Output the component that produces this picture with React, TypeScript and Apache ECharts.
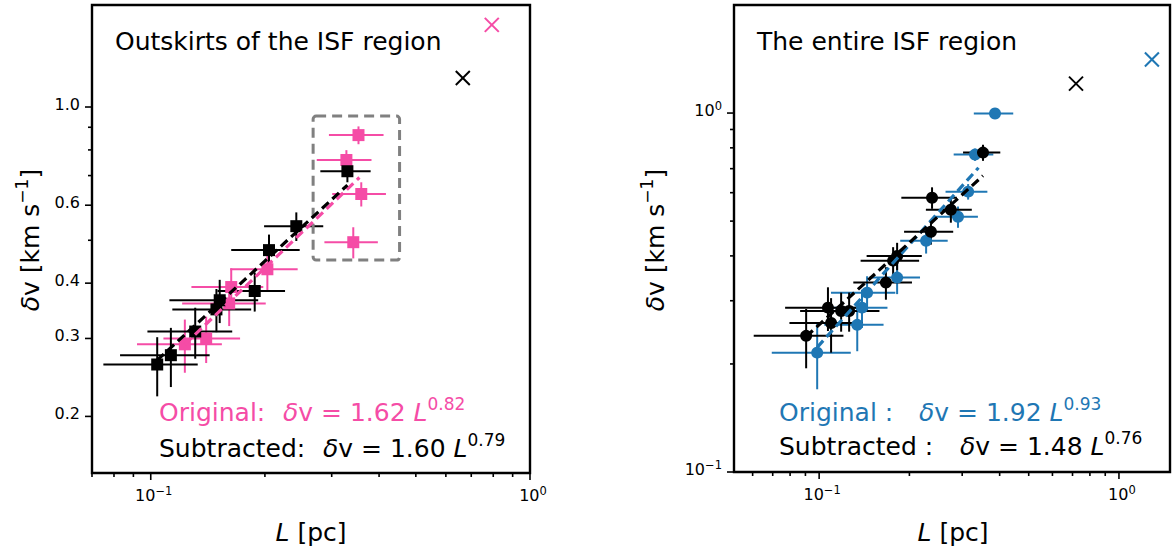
import React, { useEffect, useRef } from 'react';
import * as echarts from 'echarts';

const PINK = '#f54ca6';
const BLUE = '#1f77b4';
const GREY = '#808080';
const FONT = "'DejaVu Sans', sans-serif";
const BIG = 25;

// ---------- Left panel: outskirts of the ISF region ----------
const leftOrigL = [0.353, 0.328, 0.359, 0.342, 0.203, 0.163, 0.161, 0.140, 0.123];
const leftOrigV = [0.864, 0.759, 0.636, 0.495, 0.430, 0.392, 0.360, 0.300, 0.291];
const leftOrigLErr = [0.058, 0.054, 0.058, 0.055, 0.041, 0.035, 0.040, 0.032, 0.031];
const leftOrigVErr = [0.04, 0.04, 0.04, 0.04, 0.045, 0.04, 0.04, 0.036, 0.04];
const leftSubL = [0.330, 0.242, 0.205, 0.188, 0.152, 0.149, 0.131, 0.113, 0.104];
const leftSubV = [0.716, 0.538, 0.475, 0.384, 0.366, 0.349, 0.311, 0.275, 0.262];
const leftSubLErr = [0.05, 0.043, 0.042, 0.038, 0.04, 0.035, 0.033, 0.030, 0.029];
const leftSubVErr = [0.04, 0.04, 0.04, 0.039, 0.041, 0.039, 0.041, 0.042, 0.040];
const leftOrigOutlier = [0.793, 1.533];
const leftSubOutlier = [0.665, 1.163];
const leftOrigFit = [[0.123, 0.291], [0.355, 0.693]];
const leftSubFit = [[0.104, 0.268], [0.330, 0.666]];
const leftBox = [0.268, 0.453, 0.451, 0.954]; // Lmin, Lmax, vmin, vmax
const leftXRange = [0.07, 1.0];
const leftYRange = [0.149, 1.7];
const leftXMajor = [0.1, 1.0];
const leftXMajorLabels = ['10{s|−1}', '10{s|0}'];
const leftXMinor = [0.07, 0.08, 0.09, 0.2, 0.3, 0.4, 0.5, 0.6, 0.7, 0.8, 0.9];
const leftYMajor = [0.2, 0.3, 0.4, 0.6, 1.0];
const leftYMajorLabels = ['0.2', '0.3', '0.4', '0.6', '1.0'];
const leftYMinor = [0.5, 0.7, 0.8, 0.9];

// ---------- Right panel: the entire ISF region ----------
const rightOrigL = [0.386, 0.331, 0.314, 0.2905, 0.2274, 0.182, 0.1445, 0.139, 0.134, 0.0985];
const rightOrigV = [0.997, 0.766, 0.604, 0.514, 0.441, 0.348, 0.316, 0.287, 0.257, 0.215];
const rightOrigLErr = [0.058, 0.05, 0.05, 0.048, 0.041, 0.035, 0.035, 0.03, 0.03, 0.029];
const rightOrigVErr = [0.03, 0.03, 0.03, 0.035, 0.035, 0.035, 0.035, 0.035, 0.04, 0.045];
const rightSubL = [0.352, 0.238, 0.275, 0.236, 0.182, 0.1765, 0.167, 0.1259, 0.1184, 0.107, 0.1096, 0.0905];
const rightSubV = [0.776, 0.581, 0.538, 0.467, 0.400, 0.388, 0.337, 0.281, 0.281, 0.287, 0.260, 0.2395];
const rightSubLErr = [0.05, 0.05, 0.048, 0.044, 0.038, 0.039, 0.037, 0.033, 0.032, 0.03, 0.03, 0.03];
const rightSubVErr = [0.04, 0.04, 0.043, 0.037, 0.035, 0.035, 0.035, 0.035, 0.035, 0.04, 0.045, 0.045];
const rightOrigOutlier = [1.288, 1.41];
const rightSubOutlier = [0.719, 1.208];
const rightOrigFit = [[0.0985, 0.2225], [0.34, 0.704]];
const rightSubFit = [[0.0905, 0.2385], [0.352, 0.669]];
const rightXRange = [0.052, 1.48];
const rightYRange = [0.1, 2.0];
const rightXMajor = [0.1, 1.0];
const rightXMajorLabels = ['10{s|−1}', '10{s|0}'];
const rightXMinor = [0.06, 0.07, 0.08, 0.09, 0.2, 0.3, 0.4, 0.5, 0.6, 0.7, 0.8, 0.9];
const rightYMajor = [0.1, 1.0];
const rightYMajorLabels = ['10{s|−1}', '10{s|0}'];
const rightYMinor = [0.2, 0.3, 0.4, 0.5, 0.6, 0.7, 0.8, 0.9];

const zip4 = (a: number[], b: number[], c: number[], d: number[]) => a.map((v, i) => [v, b[i], c[i], d[i]]);
const zip2 = (a: number[], b: number[]) => a.map((v, i) => [v, b[i]]);

const tickRich = {
  s: { fontSize: 11.5, lineHeight: 10, verticalAlign: 'top', fontFamily: FONT, fill: '#000' },
};

function errSeries(idx: number, data: number[][], color: string) {
  return {
    type: 'custom', xAxisIndex: idx, yAxisIndex: idx, clip: true, silent: true,
    data,
    renderItem: (_p: any, api: any) => {
      const x = api.value(0), y = api.value(1), ex = api.value(2), ey = api.value(3);
      const c = api.coord([x, y]);
      const l = api.coord([x - ex, y]);
      const r = api.coord([x + ex, y]);
      const t = api.coord([x, y + ey]);
      const b = api.coord([x, y - ey]);
      const style = { stroke: color, lineWidth: 2 };
      return {
        type: 'group',
        children: [
          { type: 'line', shape: { x1: l[0], y1: c[1], x2: r[0], y2: c[1] }, style },
          { type: 'line', shape: { x1: c[0], y1: t[1], x2: c[0], y2: b[1] }, style },
        ],
      };
    },
  };
}

function crossSeries(idx: number, pt: number[], color: string) {
  return {
    type: 'custom', xAxisIndex: idx, yAxisIndex: idx, clip: false, silent: true,
    data: [pt],
    renderItem: (_p: any, api: any) => {
      const c = api.coord([api.value(0), api.value(1)]);
      const h = 7;
      const style = { stroke: color, lineWidth: 2 };
      return {
        type: 'group',
        children: [
          { type: 'line', shape: { x1: c[0] - h, y1: c[1] - h, x2: c[0] + h, y2: c[1] + h }, style },
          { type: 'line', shape: { x1: c[0] - h, y1: c[1] + h, x2: c[0] + h, y2: c[1] - h }, style },
        ],
      };
    },
  };
}

function markerSeries(idx: number, data: number[][], color: string, symbol: string) {
  return {
    type: 'scatter', xAxisIndex: idx, yAxisIndex: idx, symbol, symbolSize: 12, silent: true,
    itemStyle: { color, opacity: 1 }, data,
  };
}

function fitSeries(idx: number, data: number[][], color: string) {
  return {
    type: 'line', xAxisIndex: idx, yAxisIndex: idx, data, symbol: 'none', silent: true,
    lineStyle: { color, width: 3.2, type: [9, 5] },
  };
}

function xTicks(idx: number, vals: number[], labels: string[] | null, yMin: number, len: number) {
  return {
    type: 'custom', xAxisIndex: idx, yAxisIndex: idx, clip: false, silent: true, z: 10,
    data: vals.map((v, i) => [v, yMin, i]),
    renderItem: (_p: any, api: any) => {
      const i = api.value(2);
      const p = api.coord([api.value(0), yMin]);
      const children: any[] = [
        { type: 'line', shape: { x1: p[0], y1: p[1], x2: p[0], y2: p[1] + len }, style: { stroke: '#000', lineWidth: 1.6 } },
      ];
      if (labels) {
        children.push({
          type: 'text',
          style: {
            text: labels[i], x: p[0] + 3, y: p[1] + len + 5, align: 'center', verticalAlign: 'top',
            fill: '#000', fontSize: 16, fontFamily: FONT, lineHeight: 21, rich: tickRich,
          },
        });
      }
      return { type: 'group', children };
    },
  };
}

function yTicks(idx: number, vals: number[], labels: string[] | null, xMin: number, len: number) {
  return {
    type: 'custom', xAxisIndex: idx, yAxisIndex: idx, clip: false, silent: true, z: 10,
    data: vals.map((v, i) => [xMin, v, i]),
    renderItem: (_p: any, api: any) => {
      const i = api.value(2);
      const p = api.coord([xMin, api.value(1)]);
      const children: any[] = [
        { type: 'line', shape: { x1: p[0] - len, y1: p[1], x2: p[0], y2: p[1] }, style: { stroke: '#000', lineWidth: 1.6 } },
      ];
      if (labels) {
        children.push({
          type: 'text',
          style: {
            text: labels[i], x: p[0] - len - 5, y: p[1] - 3, align: 'right', verticalAlign: 'middle',
            fill: '#000', fontSize: 16, fontFamily: FONT, lineHeight: 21, rich: tickRich,
          },
        });
      }
      return { type: 'group', children };
    },
  };
}

function boxSeries(idx: number, box: number[]) {
  return {
    type: 'custom', xAxisIndex: idx, yAxisIndex: idx, clip: false, silent: true,
    data: [box],
    renderItem: (_p: any, api: any) => {
      const a = api.coord([api.value(0), api.value(3)]);
      const b = api.coord([api.value(1), api.value(2)]);
      return {
        type: 'rect',
        shape: { x: a[0], y: a[1], width: b[0] - a[0], height: b[1] - a[1], r: 3 },
        style: { fill: 'none', stroke: GREY, lineWidth: 3, lineDash: [10, 6] },
      };
    },
  };
}

const annRich = {
  i: { fontStyle: 'italic', fontSize: BIG, lineHeight: 34, fontFamily: FONT },
  s: { fontSize: 17, lineHeight: 15, verticalAlign: 'top', fontFamily: FONT },
};

function annText(x: number, y: number, text: string, color: string) {
  return {
    type: 'text', x, y, silent: true,
    style: {
      text, x: 0, y: 0, align: 'left', verticalAlign: 'middle', fill: color,
      fontSize: BIG, fontFamily: FONT, lineHeight: 34,
      rich: {
        i: { ...annRich.i, fill: color },
        s: { ...annRich.s, fill: color },
      },
    },
  };
}

function yLabel(x: number, y: number) {
  return {
    type: 'text', x, y, rotation: Math.PI / 2, silent: true,
    style: {
      text: '{i|δ}v [km s{s|−1}]', x: 0, y: 0, align: 'center', verticalAlign: 'middle', fill: '#000',
      fontSize: BIG, fontFamily: FONT, lineHeight: 34,
      rich: { i: { ...annRich.i, fill: '#000' }, s: { ...annRich.s, fill: '#000' } },
    },
  };
}

function xLabel(x: number, y: number) {
  return {
    type: 'text', x, y, silent: true,
    style: {
      text: '{i|L} [pc]', x: 0, y: 0, align: 'center', verticalAlign: 'middle', fill: '#000',
      fontSize: BIG, fontFamily: FONT, lineHeight: 34,
      rich: { i: { ...annRich.i, fill: '#000' } },
    },
  };
}

function axisPair(idx: number, xr: number[], yr: number[]) {
  const common = {
    type: 'log', logBase: 10, gridIndex: idx,
    axisLine: { show: false }, axisTick: { show: false }, axisLabel: { show: false }, splitLine: { show: false },
  };
  return {
    x: { ...common, min: xr[0], max: xr[1] },
    y: { ...common, min: yr[0], max: yr[1] },
  };
}

export default function App() {
  const ref = useRef<HTMLDivElement>(null);
  useEffect(() => {
    if (!ref.current) return;
    const chart = echarts.init(ref.current, undefined, { renderer: 'svg' });
    const a0 = axisPair(0, leftXRange, leftYRange);
    const a1 = axisPair(1, rightXRange, rightYRange);
    const option: any = {
      animation: false,
      backgroundColor: '#fff',
      grid: [
        { left: 92, top: 5, width: 438, height: 468, show: true, borderColor: '#000', borderWidth: 2.4, backgroundColor: 'transparent', z: 20 },
        { left: 734, top: 5, width: 436, height: 467, show: true, borderColor: '#000', borderWidth: 2.4, backgroundColor: 'transparent', z: 20 },
      ],
      xAxis: [a0.x, a1.x],
      yAxis: [a0.y, a1.y],
      series: [
        // left panel
        errSeries(0, zip4(leftOrigL, leftOrigV, leftOrigLErr, leftOrigVErr), PINK),
        markerSeries(0, zip2(leftOrigL, leftOrigV), PINK, 'rect'),
        errSeries(0, zip4(leftSubL, leftSubV, leftSubLErr, leftSubVErr), '#000'),
        markerSeries(0, zip2(leftSubL, leftSubV), '#000', 'rect'),
        fitSeries(0, leftOrigFit, PINK),
        fitSeries(0, leftSubFit, '#000'),
        crossSeries(0, leftOrigOutlier, PINK),
        crossSeries(0, leftSubOutlier, '#000'),
        boxSeries(0, leftBox),
        xTicks(0, leftXMajor, leftXMajorLabels, leftYRange[0], 7),
        xTicks(0, leftXMinor, null, leftYRange[0], 4),
        yTicks(0, leftYMajor, leftYMajorLabels, leftXRange[0], 7),
        yTicks(0, leftYMinor, null, leftXRange[0], 4),
        // right panel
        errSeries(1, zip4(rightOrigL, rightOrigV, rightOrigLErr, rightOrigVErr), BLUE),
        markerSeries(1, zip2(rightOrigL, rightOrigV), BLUE, 'circle'),
        errSeries(1, zip4(rightSubL, rightSubV, rightSubLErr, rightSubVErr), '#000'),
        markerSeries(1, zip2(rightSubL, rightSubV), '#000', 'circle'),
        fitSeries(1, rightOrigFit, BLUE),
        fitSeries(1, rightSubFit, '#000'),
        crossSeries(1, rightOrigOutlier, BLUE),
        crossSeries(1, rightSubOutlier, '#000'),
        xTicks(1, rightXMajor, rightXMajorLabels, rightYRange[0], 7),
        xTicks(1, rightXMinor, null, rightYRange[0], 4),
        yTicks(1, rightYMajor, rightYMajorLabels, rightXRange[0], 7),
        yTicks(1, rightYMinor, null, rightXRange[0], 4),
      ],
      graphic: [
        { type: 'text', x: 115, y: 41, silent: true, style: { text: 'Outskirts of the ISF region', x: 0, y: 0, verticalAlign: 'middle', fill: '#000', fontSize: BIG, fontFamily: FONT } },
        { type: 'text', x: 757, y: 41, silent: true, style: { text: 'The entire ISF region', x: 0, y: 0, verticalAlign: 'middle', fill: '#000', fontSize: BIG, fontFamily: FONT } },
        annText(159, 412, 'Original:', PINK),
        annText(283, 412, '{i|δ}v = 1.62 {i|L}{s|0.82}', PINK),
        annText(159, 448, 'Subtracted:', '#000'),
        annText(323, 448, '{i|δ}v = 1.60 {i|L}{s|0.79}', '#000'),
        annText(779, 412, 'Original :', BLUE),
        annText(919, 412, '{i|δ}v = 1.92 {i|L}{s|0.93}', BLUE),
        annText(779, 446, 'Subtracted :', '#000'),
        annText(960, 446, '{i|δ}v = 1.48 {i|L}{s|0.76}', '#000'),
        yLabel(30, 240),
        yLabel(655, 240),
        xLabel(311, 532),
        xLabel(953, 532),
      ],
    };
    chart.setOption(option);
    return () => chart.dispose();
  }, []);
  return <div ref={ref} style={{ position: 'fixed', left: 0, top: 0, width: 1173, height: 550 }} />;
}
